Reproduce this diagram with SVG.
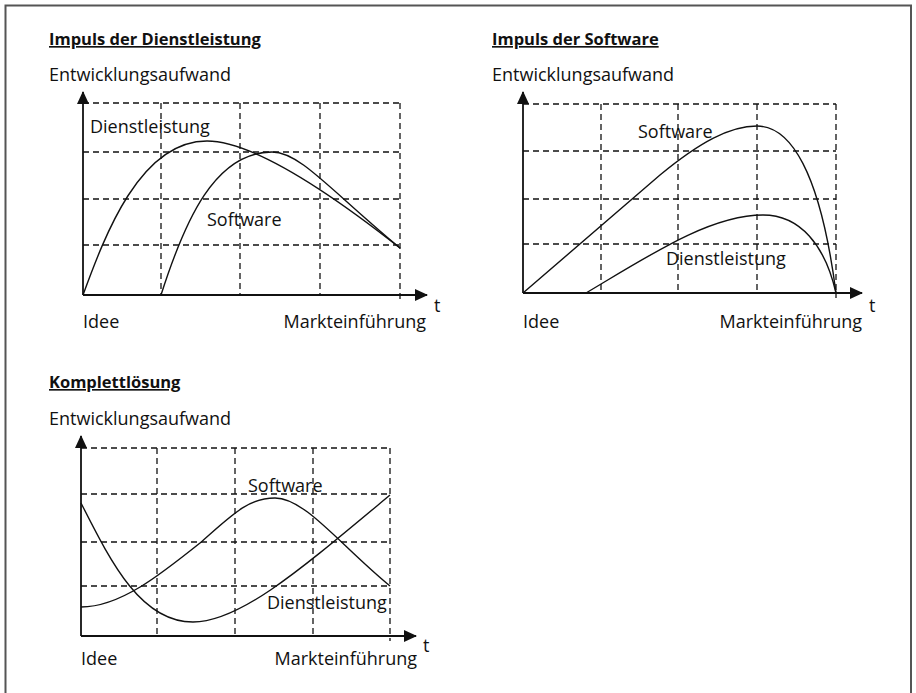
<svg xmlns="http://www.w3.org/2000/svg" width="916" height="693" viewBox="0 0 916 693">
<style>
text{font-family:"Open Sans","Noto Sans","Liberation Sans",sans-serif;font-size:18px;fill:#111}
.title{font-weight:bold;font-size:16.5px;text-decoration:underline}
.grid{stroke:#111;stroke-width:1.3;stroke-dasharray:6 4;fill:none}
.axis{stroke:#111;stroke-width:1.8;fill:none;marker-end:url(#arr)}
.curve{stroke:#111;stroke-width:1.4;fill:none}
</style>
<defs>
<marker id="arr" markerUnits="userSpaceOnUse" markerWidth="13" markerHeight="12" refX="12" refY="6" orient="auto">
<path d="M0,0 L13,6 L0,12 Z" fill="#111"/>
</marker>
</defs>
<rect width="916" height="693" fill="#fff"/>
<path d="M5.5,693 V5.5 H911 V693" fill="none" stroke="#555" stroke-width="2"/>

<g id="chart1">
<text class="title" x="49" y="45">Impuls der Dienstleistung</text>
<text x="49" y="81">Entwicklungsaufwand</text>
<path class="grid" d="M83,103 H400 M83,152 H400 M83,199 H400 M83,245 H400 M161,103 V295 M240,103 V295 M320,103 V295 M400,103 V300"/>
<line class="axis" x1="83" y1="295" x2="83" y2="92"/>
<line class="axis" x1="83" y1="295" x2="427" y2="295"/>
<path class="curve" d="M83,295 C105,235 140,141 207,141 C250,141 320,185 400,248"/>
<path class="curve" d="M161,295 C185,220 215,152 272,152 C300,152 330,190 400,248"/>
<text x="90" y="133">Dienstleistung</text>
<text x="207" y="226">Software</text>
<text x="83" y="328">Idee</text>
<text x="426" y="328" text-anchor="end">Markteinführung</text>
<text x="434" y="312">t</text>
</g>

<g id="chart2">
<text class="title" x="492" y="45">Impuls der Software</text>
<text x="492" y="81">Entwicklungsaufwand</text>
<path class="grid" d="M523,104 H836 M523,151 H836 M523,199 H836 M523,244 H836 M601,104 V293 M678,104 V293 M757,104 V293 M836,104 V298"/>
<line class="axis" x1="523" y1="293" x2="523" y2="92"/>
<line class="axis" x1="523" y1="293" x2="862" y2="293"/>
<path class="curve" d="M523,293 L660,175 C700,142 730,126 757,126 C790,126 820,170 836,293"/>
<path class="curve" d="M586,293 C650,255 710,215 763,215 C800,215 825,245 836,293"/>
<text x="638" y="138">Software</text>
<text x="666" y="265">Dienstleistung</text>
<text x="523" y="328">Idee</text>
<text x="862" y="328" text-anchor="end">Markteinführung</text>
<text x="869" y="312">t</text>
</g>

<g id="chart3">
<text class="title" x="49" y="388">Komplettlösung</text>
<text x="49" y="425">Entwicklungsaufwand</text>
<path class="grid" d="M81,448 H390 M81,494 H390 M81,542 H390 M81,586 H390 M157,448 V636 M235,448 V636 M313,448 V636 M390,448 V641"/>
<line class="axis" x1="81" y1="636" x2="81" y2="436"/>
<line class="axis" x1="81" y1="636" x2="416" y2="636"/>
<path class="curve" d="M81,607 C120,607 160,575 200,543 C232,515 248,498 275,498 C305,498 340,545 390,586"/>
<path class="curve" d="M81,503 C110,560 140,622 193,622 C240,622 300,570 390,495"/>
<text x="248" y="492">Software</text>
<text x="267" y="609">Dienstleistung</text>
<text x="81" y="665">Idee</text>
<text x="417" y="665" text-anchor="end">Markteinführung</text>
<text x="423" y="652">t</text>
</g>
</svg>
